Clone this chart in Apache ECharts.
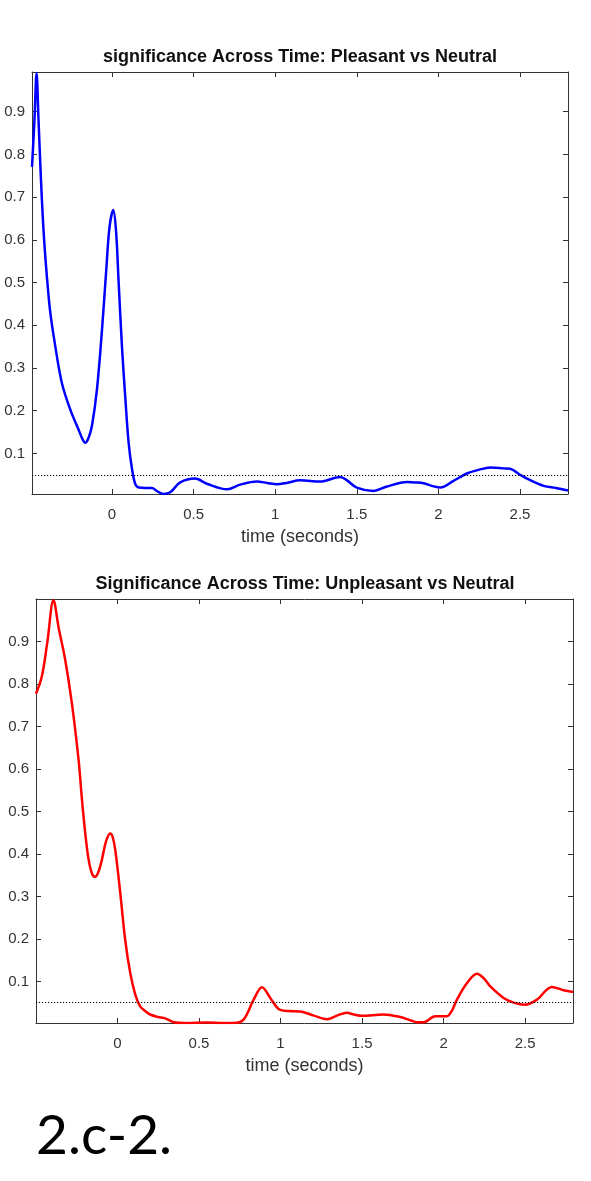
<!DOCTYPE html>
<html>
<head>
<meta charset="utf-8">
<script src="https://cdn.jsdelivr.net/npm/echarts@6/dist/echarts.min.js"></script>
<style>
  html, body { margin: 0; padding: 0; background: #fff; }
  #main { width: 591px; height: 1181px; }
</style>
</head>
<body>
<div id="main"></div>
<script>
// pleasant vs neutral (blue)
var pleasantTime = [-0.49, -0.475, -0.462, -0.45, -0.435, -0.419, -0.40, -0.378, -0.347, -0.307,
  -0.256, -0.205, -0.18, -0.164, -0.145, -0.123, -0.092, -0.061, -0.035, -0.015,
  0.008, 0.025, 0.04, 0.061, 0.081, 0.102, 0.123, 0.143, 0.165, 0.205,
  0.245, 0.275, 0.316, 0.357, 0.418, 0.51, 0.582, 0.705, 0.786, 0.888,
  0.95, 1.01, 1.07, 1.154, 1.276, 1.399, 1.44, 1.5, 1.603, 1.68,
  1.81, 1.86, 1.909, 1.96, 2.012, 2.09, 2.175, 2.25, 2.318, 2.40,
  2.44, 2.50, 2.553, 2.645, 2.72, 2.794];
var pleasantSig = [0.771, 0.88, 0.99, 0.88, 0.74, 0.62, 0.52, 0.43, 0.35, 0.265,
  0.203, 0.156, 0.133, 0.125, 0.135, 0.164, 0.25, 0.39, 0.53, 0.63,
  0.67, 0.62, 0.507, 0.351, 0.234, 0.125, 0.063, 0.028, 0.02, 0.019,
  0.019, 0.012, 0.005, 0.009, 0.032, 0.041, 0.029, 0.016, 0.027, 0.034,
  0.031, 0.028, 0.031, 0.037, 0.034, 0.045, 0.037, 0.02, 0.012, 0.022,
  0.033, 0.032, 0.03, 0.024, 0.02, 0.035, 0.053, 0.062, 0.067, 0.065,
  0.064, 0.05, 0.039, 0.024, 0.019, 0.013];

// unpleasant vs neutral (red)
var unpleasantTime = [-0.5, -0.464, -0.43, -0.393, -0.36, -0.321, -0.28, -0.239, -0.218, -0.198,
  -0.177, -0.155, -0.137, -0.115, -0.096, -0.07, -0.045, -0.03, -0.014, 0.017,
  0.047, 0.078, 0.109, 0.139, 0.17, 0.2, 0.25, 0.282, 0.31, 0.344,
  0.426, 0.548, 0.65, 0.712, 0.773, 0.835, 0.886, 0.937, 0.975, 0.998,
  1.05, 1.121, 1.2, 1.285, 1.35, 1.407, 1.45, 1.499, 1.632, 1.734,
  1.80, 1.837, 1.878, 1.949, 2.02, 2.05, 2.082, 2.144, 2.205, 2.25,
  2.287, 2.368, 2.43, 2.501, 2.573, 2.665, 2.736, 2.794];
var unpleasantSig = [0.777, 0.818, 0.9, 0.997, 0.93, 0.857, 0.755, 0.622, 0.528, 0.449,
  0.386, 0.352, 0.346, 0.36, 0.386, 0.43, 0.448, 0.44, 0.41, 0.308,
  0.198, 0.12, 0.069, 0.041, 0.03, 0.022, 0.016, 0.014, 0.01, 0.004,
  0.002, 0.003, 0.002, 0.002, 0.01, 0.057, 0.086, 0.061, 0.04, 0.033,
  0.03, 0.029, 0.02, 0.011, 0.02, 0.026, 0.022, 0.019, 0.022, 0.016,
  0.008, 0.004, 0.004, 0.018, 0.018, 0.03, 0.057, 0.096, 0.118, 0.106,
  0.088, 0.061, 0.05, 0.045, 0.057, 0.087, 0.079, 0.075];

var xTicks = [0, 0.5, 1, 1.5, 2, 2.5];
var yTicks = [0.1, 0.2, 0.3, 0.4, 0.5, 0.6, 0.7, 0.8, 0.9];
var threshold = 0.05;

var titles = ['significance Across Time: Pleasant vs Neutral',
              'Significance Across Time: Unpleasant vs Neutral'];

function pairs(t, v) {
  return t.map(function (x, i) { return [x, v[i]]; });
}

var axisColor = '#333';
var font = 'Liberation Sans, Arial, sans-serif';

function xAxes(gridIndex, min, max) {
  var bottom = {
    type: 'value', gridIndex: gridIndex, position: 'bottom', min: min, max: max,
    name: 'time (seconds)', nameLocation: 'middle', nameGap: 34,
    nameTextStyle: { color: axisColor, fontSize: 18, fontFamily: font },
    axisLine: { show: true, onZero: false, lineStyle: { color: axisColor, width: 1 } },
    axisTick: { show: true, inside: true, length: 5, customValues: xTicks, lineStyle: { color: axisColor } },
    axisLabel: { customValues: xTicks, color: axisColor, fontSize: 15, fontFamily: font, margin: 13 },
    splitLine: { show: false }
  };
  var top = {
    type: 'value', gridIndex: gridIndex, position: 'top', min: min, max: max,
    axisLine: { show: true, onZero: false, lineStyle: { color: axisColor, width: 1 } },
    axisTick: { show: true, inside: true, length: 5, customValues: xTicks, lineStyle: { color: axisColor } },
    axisLabel: { show: false },
    splitLine: { show: false }
  };
  return [bottom, top];
}

function yAxes(gridIndex, min, max) {
  var left = {
    type: 'value', gridIndex: gridIndex, position: 'left', min: min, max: max,
    axisLine: { show: true, onZero: false, lineStyle: { color: axisColor, width: 1 } },
    axisTick: { show: true, inside: true, length: 5, customValues: yTicks, lineStyle: { color: axisColor } },
    axisLabel: { customValues: yTicks, color: axisColor, fontSize: 15, fontFamily: font, margin: 7 },
    splitLine: { show: false }
  };
  var right = {
    type: 'value', gridIndex: gridIndex, position: 'right', min: min, max: max,
    axisLine: { show: true, onZero: false, lineStyle: { color: axisColor, width: 1 } },
    axisTick: { show: true, inside: true, length: 5, customValues: yTicks, lineStyle: { color: axisColor } },
    axisLabel: { show: false },
    splitLine: { show: false }
  };
  return [left, right];
}

function sigSeries(xi, yi, data, color) {
  return {
    type: 'line', xAxisIndex: xi, yAxisIndex: yi, data: data,
    showSymbol: false, smooth: 0.35, clip: true,
    lineStyle: { color: color, width: 2.5 },
    markLine: {
      silent: true, symbol: ['none', 'none'], label: { show: false },
      lineStyle: { color: '#000', width: 1.2, type: [1.2, 1.8] },
      data: [{ yAxis: threshold }]
    }
  };
}

var chart = echarts.init(document.getElementById('main'));
var option = {
  animation: false,
  backgroundColor: '#fff',
  title: [
    { text: titles[0], left: 300, top: 48, padding: 0, textAlign: 'center',
      textStyle: { fontSize: 18, fontWeight: 'bold', color: '#111', fontFamily: font } },
    { text: titles[1], left: 305, top: 575, padding: 0, textAlign: 'center',
      textStyle: { fontSize: 18, fontWeight: 'bold', color: '#111', fontFamily: font } }
  ],
  grid: [
    { left: 32, top: 72, width: 536, height: 422 },
    { left: 36, top: 599, width: 537, height: 424 }
  ],
  xAxis: xAxes(0, -0.49, 2.794).concat(xAxes(1, -0.5, 2.794)),
  yAxis: yAxes(0, 0.005, 0.993).concat(yAxes(1, 0.002, 1.0)),
  series: [
    sigSeries(0, 0, pairs(pleasantTime, pleasantSig), '#0000ff'),
    sigSeries(2, 2, pairs(unpleasantTime, unpleasantSig), '#ff0000')
  ],
  graphic: [
    { type: 'text', left: 36, top: 1109,
      style: { text: '2.c-2.', fontSize: 55, fontFamily: 'Lato, Open Sans, sans-serif', fill: '#000' } }
  ]
};
chart.setOption(option);
</script>
</body>
</html>
